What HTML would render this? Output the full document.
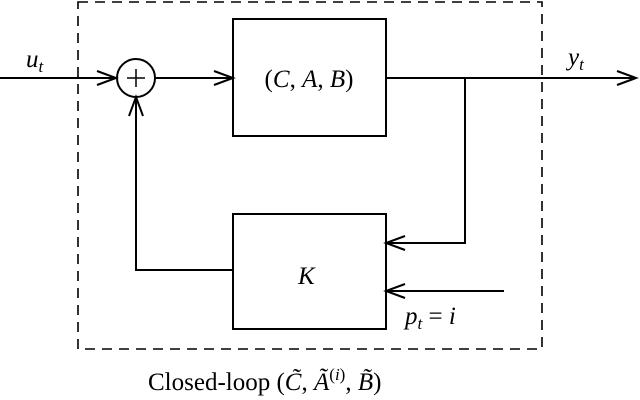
<!DOCTYPE html>
<html><head><style>html,body{margin:0;padding:0;background:#fff;}svg{display:block}</style></head>
<body>
<svg width="640" height="400" viewBox="0 0 640 400" xmlns="http://www.w3.org/2000/svg" font-family="Liberation Serif, serif">
<g fill="none" stroke="#000" stroke-width="2">
<rect x="78" y="2" width="464" height="347" stroke-dasharray="10,7" stroke-width="1.6"/>
<rect x="233" y="19" width="153" height="117"/>
<rect x="233" y="214" width="153" height="115"/>
<circle cx="136" cy="78" r="19"/>
<path d="M127 78h18M136 69v18" stroke-width="1.5"/>
<path d="M0 78h116M97 71l19 7-19 7"/>
<path d="M155 78h78M214 71l19 7-19 7"/>
<path d="M386 78h250M617 71l19 7-19 7"/>
<path d="M465 78v165h-79M405 236l-19 7 19 7"/>
<path d="M504 291h-118M405 284l-19 7 19 7"/>
<path d="M233 270h-97v-173M129 116l7-19 7 19"/>
</g>
<g font-size="25" font-style="italic" fill="#000">
<text x="26" y="67">u<tspan font-size="17" dy="5">t</tspan></text>
<text x="568" y="65">y<tspan font-size="17" dy="5">t</tspan></text>
<text x="298" y="284">K</text>
<text x="405" y="324">p<tspan font-size="17" dy="5">t</tspan><tspan dy="-5" font-style="normal"> = </tspan>i</text>
<text x="309" y="87" text-anchor="middle"><tspan font-style="normal">(</tspan>C<tspan font-style="normal">, </tspan>A<tspan font-style="normal">, </tspan>B<tspan font-style="normal">)</tspan></text>
</g>
<text x="148" y="390" font-size="25" fill="#000">Closed-loop (<tspan font-style="italic">C̃</tspan>, <tspan font-style="italic">Ã</tspan><tspan font-size="17" dy="-10">(<tspan font-style="italic">i</tspan>)</tspan><tspan dy="10">, </tspan><tspan font-style="italic">B̃</tspan>)</text>
</svg>
</body></html>
